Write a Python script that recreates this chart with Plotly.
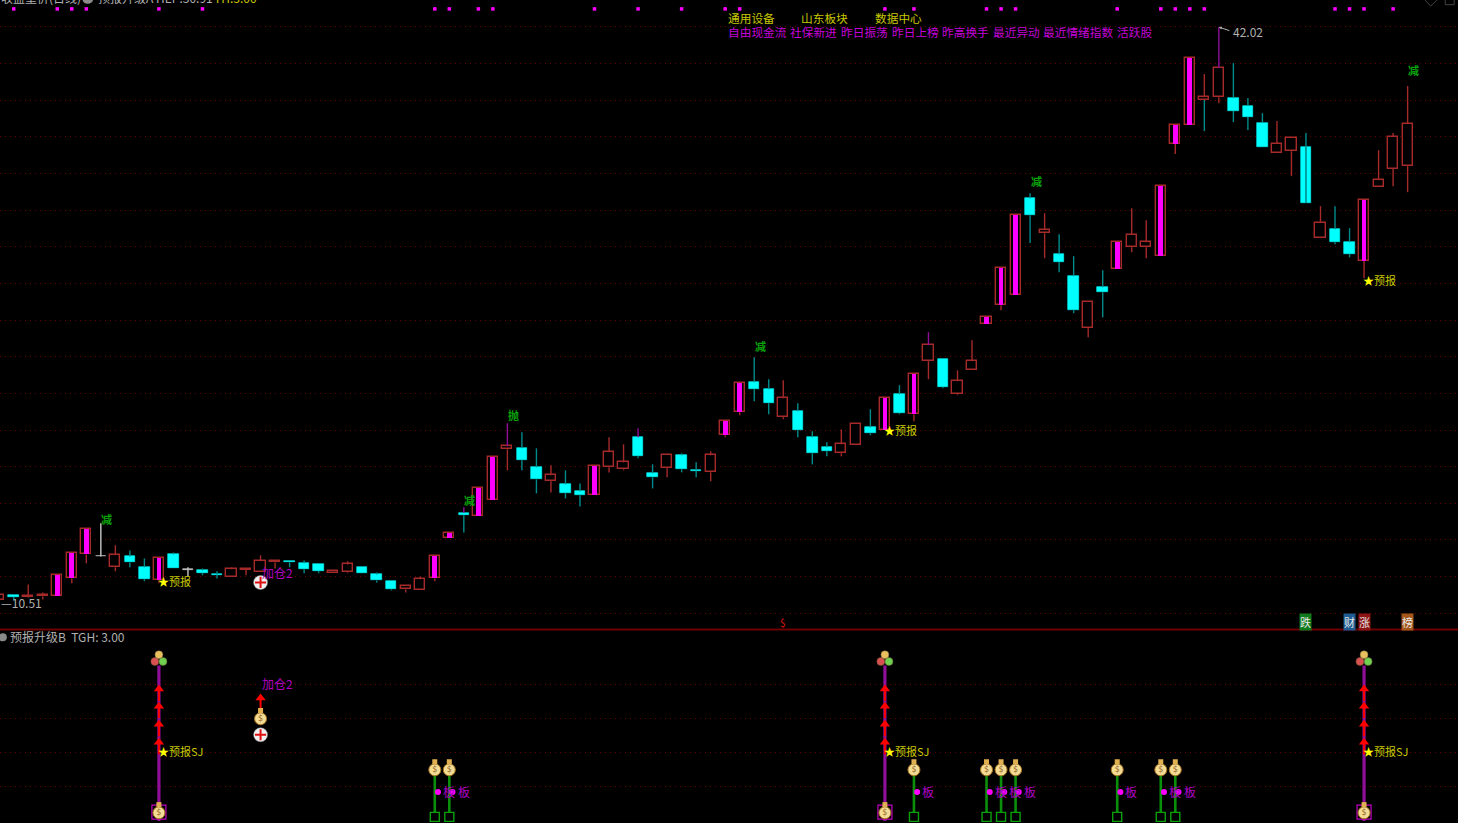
import plotly.graph_objects as go
from plotly.subplots import make_subplots

# ---------- price data (k-line index, OHLC) ----------
day = list(range(-1, 97))
kind = list("r"
            "crrmmmwrcc"  # 0-9
            "mcwccrrrrc"  # 10-19
            "ccrrcccrrm"  # 20-29
            "mcmmrccrcc"  # 30-39
            "mrrccrccrm"  # 40-49
            "mccrcccrrc"  # 50-59
            "mcmrcrrmmm"  # 60-69
            "crccrcmrrm"  # 70-79
            "mmrrcccrrc"  # 80-89
            "rccmrrr")    # 90-96

opens = [10.51,
         10.81, 10.70, 10.73, 10.73, 11.72, 13.04, 12.93, 12.33, 12.93, 12.33,
         11.61, 13.04, 12.19, 12.16, 11.94, 11.78, 12.19, 12.05, 12.60, 12.66,
         12.55, 12.49, 12.00, 12.05, 12.33, 11.94, 11.56, 11.12, 11.06, 11.72,
         13.92, 15.33, 15.13, 16.01, 18.82, 18.87, 17.83, 17.06, 16.89, 16.51,
         16.29, 17.83, 17.72, 19.48, 17.50, 17.77, 18.49, 17.66, 17.55, 19.59,
         20.85, 22.50, 22.12, 20.58, 20.91, 19.48, 18.93, 18.60, 19.04, 20.02,
         19.86, 21.84, 20.74, 23.66, 23.77, 21.84, 23.16, 25.69, 26.74, 27.29,
         32.62, 30.69, 29.54, 28.33, 25.47, 27.72, 28.72, 29.92, 29.92, 29.43,
         35.59, 36.64, 38.01, 38.17, 38.12, 37.68, 36.75, 35.09, 35.20, 35.43,
         30.42, 30.91, 30.20, 29.16, 33.23, 34.22, 34.38]
closes = [10.79,
          10.70, 10.76, 10.79, 11.89, 13.10, 14.42, 12.96, 12.99, 12.60, 11.67,
          12.82, 12.27, 12.22, 12.00, 11.92, 12.22, 12.22, 12.66, 12.68, 12.60,
          12.22, 12.11, 12.11, 12.49, 12.00, 11.61, 11.12, 11.28, 11.67, 12.93,
          14.20, 15.19, 16.67, 18.37, 18.98, 18.21, 17.16, 17.39, 16.40, 16.29,
          17.88, 18.65, 18.10, 18.43, 17.28, 18.49, 17.72, 17.64, 18.49, 20.36,
          22.45, 22.12, 21.35, 21.62, 19.86, 18.60, 18.71, 19.09, 20.19, 19.69,
          21.62, 20.80, 22.94, 24.54, 22.23, 22.56, 23.66, 26.07, 28.77, 31.68,
          31.68, 30.86, 29.10, 26.46, 26.90, 27.45, 30.20, 30.59, 30.20, 33.28,
          36.64, 40.32, 38.17, 39.77, 37.41, 37.08, 35.43, 35.59, 35.92, 32.35,
          31.25, 30.20, 29.54, 32.51, 33.61, 35.98, 36.69]
highs = [10.79,
         10.84, 11.39, 10.95, 11.89, 13.10, 14.42, 14.75, 13.54, 13.26, 12.82,
         12.82, 13.15, 12.33, 12.27, 12.11, 12.33, 12.22, 12.99, 12.68, 12.66,
         12.71, 12.49, 12.11, 12.66, 12.33, 12.05, 11.56, 11.28, 11.83, 12.93,
         14.20, 15.63, 16.67, 18.37, 20.25, 19.75, 18.87, 17.94, 17.66, 16.94,
         17.88, 19.48, 19.09, 19.97, 17.99, 18.49, 18.60, 18.10, 18.71, 20.36,
         22.45, 23.88, 22.67, 22.61, 21.35, 19.81, 19.20, 19.91, 20.19, 21.02,
         21.62, 22.34, 22.94, 25.25, 23.77, 23.16, 24.81, 26.07, 28.77, 31.68,
         32.89, 31.79, 30.64, 29.43, 26.90, 28.66, 30.20, 32.07, 31.41, 33.28,
         36.64, 40.32, 39.44, 42.02, 40.04, 38.12, 37.29, 36.86, 35.92, 36.20,
         32.18, 32.18, 30.97, 32.51, 35.26, 36.20, 38.78]
lows = [10.51,
        10.51, 10.67, 10.57, 10.73, 11.45, 12.55, 12.90, 12.11, 12.33, 11.56,
        11.45, 12.27, 11.83, 11.89, 11.72, 11.78, 11.89, 12.05, 12.27, 12.33,
        12.00, 12.00, 12.00, 12.00, 12.00, 11.50, 11.06, 10.95, 11.06, 11.56,
        13.92, 14.25, 15.13, 16.01, 17.66, 17.66, 16.40, 16.45, 16.12, 15.68,
        16.29, 17.55, 17.66, 18.32, 16.67, 17.28, 17.55, 17.28, 17.06, 19.48,
        20.69, 21.46, 20.74, 20.47, 19.48, 17.99, 18.43, 18.43, 19.04, 19.59,
        19.86, 20.74, 20.36, 22.67, 22.17, 21.79, 23.16, 25.69, 26.46, 27.29,
        30.15, 29.32, 28.55, 26.30, 24.98, 26.08, 28.72, 29.65, 29.32, 29.43,
        35.04, 36.64, 36.31, 37.84, 36.80, 36.36, 35.43, 35.09, 33.83, 32.35,
        30.42, 30.09, 29.37, 28.22, 33.23, 33.28, 32.95]

magenta_top_wicks = [31, 34, 43, 63, 83]
teal_low_wicks = [82]
teal_through = [89]

# ---------- signals ----------
top_dots = [0, 3, 4, 5, 10, 13, 29, 30, 32, 33, 40, 43, 46, 49, 50, 60, 62, 67, 68, 69,
            76, 79, 80, 81, 82, 91, 92, 93, 95]
forecast_days = [10, 60, 93]
forecast_prices = [11.50, 19.81, 28.06]
flag_days = [6, 31, 34, 51, 70, 96]
flag_prices = [14.96, 15.95, 20.63, 24.42, 33.50, 39.60]
flag_texts = ["减", "减", "抛", "减", "减", "减"]
add_day = [17]
add_price = [11.50]
board_days = [29, 30, 62, 67, 68, 69, 76, 79, 80]
badge_days = [89, 92, 93, 96]
badge_texts = ["跌", "财", "涨", "榜"]
badge_colors = ["#0f7a1c", "#1f5c94", "#8c1414", "#a5571b"]
industry_tags = ["通用设备", "山东板块", "数据中心"]
industry_px = [727, 800, 874]
concept_tags = ["自由现金流", "社保新进", "昨日振荡", "昨日上榜", "昨高换手", "最近异动", "最近情绪指数", "活跃股"]
concept_px = [727, 789, 840, 891, 941, 992, 1042, 1116]

# lower panel levels
purple_top = 4.56
green_top = 1.45
arrow_levels = [3.82, 3.32, 2.79, 2.26]
bag_low = 0.24
bag_green = 1.50
box_green = 0.12
box_purple = 0.26
ball_gold = 4.88
ball_side = 4.68
star_level = 2.03
board_level = 0.85
add_arrow = 3.56
add_bag = 3.0
add_plus = 2.53
add_text = 4.0

FONT = "Noto Sans CJK SC"
RED = "#a62a2a"
TEAL = "#008b8b"
CYAN = "#00ffff"
MAGENTA = "#ff00ff"
PURPLE = "#8f0f99"
GREEN = "#0a8f0a"
YELLOW = "#c8c800"
LABEL_MAGENTA = "#c400d8"
GRAY = "#b0b0b0"

fig = make_subplots(rows=2, cols=1, shared_xaxes=True, vertical_spacing=0)


def segs(pairs):
    xs, ys = [], []
    for x, a, b in pairs:
        xs += [x, x, None]
        ys += [a, b, None]
    return xs, ys


def line_trace(pairs, color, width, row=1):
    xs, ys = segs(pairs)
    fig.add_trace(go.Scatter(x=xs, y=ys, mode="lines", line=dict(color=color, width=width),
                             hoverinfo="skip", showlegend=False), row=row, col=1)


def select(k_char):
    return [i for i, c in enumerate(kind) if c == k_char]


# bodies
def body_trace(idx, fill, line, width, lw):
    fig.add_trace(go.Bar(x=[day[i] for i in idx],
                         y=[closes[i] - opens[i] for i in idx],
                         base=[opens[i] for i in idx],
                         width=width,
                         marker=dict(color=fill, line=dict(color=line, width=lw)),
                         hoverinfo="skip", showlegend=False), row=1, col=1)


body_trace(select("r"), "#000000", RED, 0.70, 1.4)
body_trace(select("m"), "#000000", RED, 0.70, 1.4)
body_trace(select("m"), MAGENTA, MAGENTA, 0.33, 0)
body_trace(select("c"), CYAN, CYAN, 0.72, 0.6)
body_trace(select("w"), "#d0d0d0", "#d0d0d0", 0.72, 0.6)

# wicks
groups = {RED: [], TEAL: [], "#c8c8c8": [], PURPLE: []}
for i, k in enumerate(day):
    top = max(opens[i], closes[i])
    bot = min(opens[i], closes[i])
    col = {"r": RED, "m": RED, "c": TEAL, "w": "#c8c8c8"}[kind[i]]
    up_col = PURPLE if k in magenta_top_wicks else col
    lo_col = TEAL if k in teal_low_wicks else col
    if highs[i] > top:
        groups[up_col].append((k, top, highs[i]))
    if lows[i] < bot:
        groups[lo_col].append((k, bot, lows[i]))
for col, pairs in groups.items():
    line_trace(pairs, col, 1.4)
line_trace([(day[i], opens[i], closes[i]) for i, k in enumerate(day) if k in teal_through], TEAL, 1.6)

# top row of magenta dots
fig.add_trace(go.Scatter(x=top_dots, y=[43.02] * len(top_dots), mode="markers",
                         marker=dict(color=MAGENTA, size=3.5, symbol="square"),
                         hoverinfo="skip", showlegend=False), row=1, col=1)


def bag(xs, ys, row):
    fig.add_trace(go.Scatter(x=xs, y=ys, mode="markers+text", text=["$"] * len(xs),
                             textposition="middle center",
                             textfont=dict(family="DejaVu Sans", size=8, color="#9a6a28"),
                             marker=dict(color="#f3dc96", size=12, line=dict(color="#a8741c", width=1)),
                             hoverinfo="skip", showlegend=False), row=row, col=1)
    fig.add_trace(go.Scatter(x=xs, y=[v + 0.24 for v in ys], mode="markers",
                             marker=dict(color="#e0b050", size=5, symbol="square"),
                             hoverinfo="skip", showlegend=False), row=row, col=1)


def plus(xs, ys, row):
    fig.add_trace(go.Scatter(x=xs, y=ys, mode="markers",
                             marker=dict(color="#f0f0f0", size=14, line=dict(color="#888888", width=0.5)),
                             hoverinfo="skip", showlegend=False), row=row, col=1)
    fig.add_trace(go.Scatter(x=xs, y=ys, mode="markers",
                             marker=dict(color="#e01010", size=8, symbol="cross-thin",
                                         line=dict(width=2, color="#e01010")),
                             hoverinfo="skip", showlegend=False), row=row, col=1)


plus(add_day, add_price, 1)

# lower panel: purple bars, green bars
line_trace([(k, 0, purple_top) for k in forecast_days], PURPLE, 3.2, row=2)
line_trace([(k, 0, green_top) for k in board_days], GREEN, 2.6, row=2)

# arrows
stem_pairs = [(k, v - 0.3, v) for k in forecast_days for v in arrow_levels] + [(add_day[0], add_arrow - 0.3, add_arrow)]
line_trace(stem_pairs, "#ff0000", 2, row=2)
arrow_x = [k for k in forecast_days for v in arrow_levels] + add_day
arrow_y = [v + 0.05 for k in forecast_days for v in arrow_levels] + [add_arrow + 0.05]
fig.add_trace(go.Scatter(x=arrow_x, y=arrow_y, mode="markers",
                         marker=dict(color="#ff0000", size=9, symbol="triangle-up"),
                         hoverinfo="skip", showlegend=False), row=2, col=1)

# boxes
fig.add_trace(go.Scatter(x=board_days, y=[box_green] * len(board_days), mode="markers",
                         marker=dict(symbol="square", size=9, color="#000000", line=dict(width=1.4, color="#0aa00a")),
                         hoverinfo="skip", showlegend=False), row=2, col=1)
fig.add_trace(go.Scatter(x=forecast_days, y=[box_purple] * 3, mode="markers",
                         marker=dict(symbol="square-open", size=14, color="#c000c0", line=dict(width=1.2, color="#c000c0")),
                         hoverinfo="skip", showlegend=False), row=2, col=1)

bag(forecast_days, [bag_low] * 3, 2)
bag(board_days, [bag_green] * len(board_days), 2)
bag(add_day, [add_bag], 2)
plus(add_day, [add_plus], 2)

# balls
for off, lvl, col in [(-0.28, ball_side, "#d85050"), (0.28, ball_side, "#70d050"), (0.0, ball_gold, "#e8c060")]:
    fig.add_trace(go.Scatter(x=[k + off for k in forecast_days], y=[lvl] * 3, mode="markers",
                             marker=dict(color=col, size=8, line=dict(color="#665533", width=0.5)),
                             hoverinfo="skip", showlegend=False), row=2, col=1)

# board dots
fig.add_trace(go.Scatter(x=[k + 0.22 for k in board_days], y=[board_level] * len(board_days), mode="markers",
                         marker=dict(color=MAGENTA, size=6),
                         hoverinfo="skip", showlegend=False), row=2, col=1)

# header round icons and corner glyphs
fig.add_trace(go.Scatter(x=[97.6, 98.9], y=[43.5, 43.5], mode="markers",
                         marker=dict(symbol=["diamond-open", "square-open"], color="#444444", size=9),
                         hoverinfo="skip", showlegend=False), row=1, col=1)

ann = []


def note(text, x, y, xref, yref, color, size=12, xanchor="left", yanchor="middle", **kw):
    ann.append(dict(text=text, x=x, y=y, xref=xref, yref=yref, showarrow=False, xanchor=xanchor,
                    yanchor=yanchor, font=dict(family=FONT, size=size, color=color), borderpad=0,
                    yshift=1, **kw))


def px(v):
    return v / 1458


def py(v):
    return 1 - v / 823


# header rows
for t, p in zip(industry_tags, industry_px):
    note(t, px(p), py(18), "paper", "paper", YELLOW, size=11.7)
for t, p in zip(concept_tags, concept_px):
    note(t, px(p), py(33), "paper", "paper", LABEL_MAGENTA, size=11.7)
note("收盘重价(日线)", 0, py(-2), "paper", "paper", GRAY)
note("预报升级A HEP:30.91", px(97), py(-2), "paper", "paper", GRAY)
note("TH:3.00", px(213), py(-2), "paper", "paper", YELLOW)
note("预报升级B  TGH: 3.00", px(9), py(637), "paper", "paper", GRAY)

for k, p, t in zip(flag_days, flag_prices, flag_texts):
    note("<b>" + t + "</b>", k, p, "x", "y", "#0aa30a", size=11, xanchor="center", xshift=6)
for k, p in zip(forecast_days, forecast_prices):
    note("<span style='color:#ffff00'>★</span>预报", k, p, "x", "y", YELLOW, size=11, xshift=-2)
    note("<span style='color:#ffff00'>★</span>预报SJ", k, star_level, "x2", "y2", YELLOW, size=11, xshift=-2)
note("加仓2", add_day[0], add_price[0] + 0.52, "x", "y", "#b000c0")
note("加仓2", add_day[0], add_text, "x2", "y2", "#b000c0")
for k in board_days:
    note("板", k + 0.5, board_level, "x2", "y2", "#b000c8")
for k, t, c in zip(badge_days, badge_texts, badge_colors):
    ann.append(dict(text=t, x=k, y=py(622), xref="x", yref="paper", showarrow=False, xanchor="center",
                    yanchor="middle", font=dict(family=FONT, size=11, color="#e8e8e8"), bgcolor=c, borderpad=0))
note("$", 53, py(623), "x", "paper", "#e01010", size=10, xanchor="center")
note("42.02", 83, 42.02 - 0.28, "x", "y", GRAY, xshift=13)
note("—10.51", 0, py(603), "paper", "paper", GRAY)
ann.append(dict(x=83, y=42.02, xref="x", yref="y", ax=12, ay=4, showarrow=True, arrowcolor=GRAY,
                arrowwidth=1, arrowhead=2, arrowsize=0.6, text=""))

fig.update_layout(
    width=1458, height=823, autosize=False, margin=dict(l=0, r=0, t=0, b=0, pad=0),
    paper_bgcolor="#000000", plot_bgcolor="#000000", barmode="overlay", bargap=0,
    showlegend=False, annotations=ann,
    shapes=[dict(type="line", xref="paper", yref="paper", x0=0, x1=1, y0=py(629.5), y1=py(629.5),
                 line=dict(color="#6e0000", width=2), layer="above")],
    hovermode=False,
)
# panel title dot
fig.add_trace(go.Scatter(x=[-0.75], y=[5.39], mode="markers", marker=dict(color="#8a8a8a", size=8),
                         hoverinfo="skip", showlegend=False), row=2, col=1)
fig.add_trace(go.Scatter(x=[5.1], y=[43.6], mode="markers", marker=dict(color="#8a8a8a", size=11),
                         hoverinfo="skip", showlegend=False), row=1, col=1)

split = py(629.5)
fig.update_xaxes(range=[-0.945, 99.47], visible=False, showgrid=False, zeroline=False)
fig.update_yaxes(zeroline=False, showticklabels=False, ticks="", showline=False,
                 gridcolor="#600000", griddash="1px,4px", gridwidth=1)
fig.update_yaxes(domain=[split, 1], range=[8.915, 43.51], tickmode="linear", tick0=42.04, dtick=2.0147, row=1, col=1)
fig.update_yaxes(domain=[0, split], range=[-0.06, 5.62], tickmode="array", tickvals=[1, 2, 3, 4], row=2, col=1)

fig.write_html("out.html", config={"displayModeBar": False},
               post_script="document.body.style.margin='0';document.body.style.background='#000';document.documentElement.style.overflow='hidden';")
